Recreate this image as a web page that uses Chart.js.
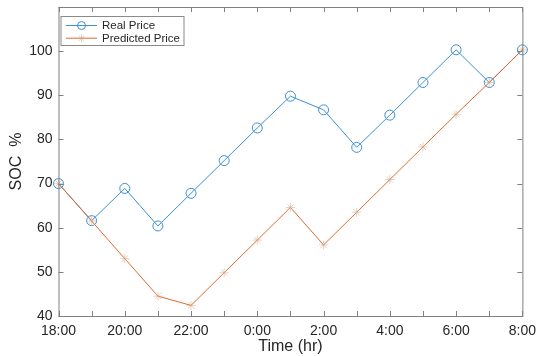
<!DOCTYPE html>
<html>
<head>
<meta charset="utf-8">
<script src="https://cdn.jsdelivr.net/npm/chart.js@4"></script>
<style>
  html, body { margin: 0; padding: 0; background: #fff; }
  #wrap { width: 543px; height: 356px; }
</style>
</head>
<body>
<div id="wrap"><canvas id="socChart" width="543" height="356"></canvas></div>
<script>
const hours = ["18:00", "19:00", "20:00", "21:00", "22:00", "23:00", "0:00", "1:00",
  "2:00", "3:00", "4:00", "5:00", "6:00", "7:00", "8:00"];
const realPrice = [70, 61.6, 68.9, 60.4, 67.8, 75.2, 82.6, 89.8, 86.7, 78.2, 85.5, 92.9, 100.3, 92.9, 100.3];
const predictedPrice = [70, 61.5, 53, 44.5, 42.4, 49.8, 57.2, 64.6, 56.1, 63.5, 70.9, 78.3, 85.7, 92.9, 100.3];

const FONT = "'Liberation Sans', Arial, Helvetica, sans-serif";
const TEXT = "#262626";
const AXIS = "#808080";
const BLUE = "#3d8fd1";
const ORANGE = "#e0692e";

// matlab-ish frame: box + inward ticks on all 4 sides, legend in top-left
const framePlugin = {
  id: "frame",
  afterDraw(chart) {
    const { ctx, chartArea: a, scales } = chart;
    ctx.save();
    ctx.strokeStyle = AXIS;
    ctx.lineWidth = 1;
    ctx.strokeRect(a.left + 0.5, a.top + 0.5, a.right - a.left, a.bottom - a.top);
    const t = 5;
    ctx.beginPath();
    scales.x.ticks.forEach((tk, i) => {
      const x = Math.round(scales.x.getPixelForTick(i)) + 0.5;
      ctx.moveTo(x, a.bottom); ctx.lineTo(x, a.bottom - t);
      ctx.moveTo(x, a.top); ctx.lineTo(x, a.top + t);
    });
    scales.y.ticks.forEach((tk) => {
      const y = Math.round(scales.y.getPixelForValue(tk.value)) + 0.5;
      ctx.moveTo(a.left, y); ctx.lineTo(a.left + t, y);
      ctx.moveTo(a.right, y); ctx.lineTo(a.right - t, y);
    });
    ctx.stroke();

    // legend box
    const bx = a.left + 2.5, by = a.top + 9.5, bw = 123, bh = 29;
    ctx.fillStyle = "#fff";
    ctx.fillRect(bx, by, bw, bh);
    ctx.strokeStyle = "#8a8a8a";
    ctx.strokeRect(bx, by, bw, bh);
    ctx.font = "11.5px " + FONT;
    ctx.textBaseline = "middle";
    chart.data.datasets.forEach((ds, i) => {
      const y = by + 9 + i * 12.7;
      ctx.strokeStyle = ds.borderColor;
      ctx.lineWidth = 1;
      ctx.beginPath();
      ctx.moveTo(bx + 5, y); ctx.lineTo(bx + 36, y);
      ctx.stroke();
      const cx = bx + 20.5;
      if (i === 0) {
        ctx.beginPath();
        ctx.arc(cx, y, 4, 0, Math.PI * 2);
        ctx.stroke();
      } else {
        ctx.strokeStyle = ds.pointBorderColor;
        ctx.beginPath();
        for (let k = 0; k < 4; k++) {
          const ang = k * Math.PI / 4;
          ctx.moveTo(cx - 4 * Math.cos(ang), y - 4 * Math.sin(ang));
          ctx.lineTo(cx + 4 * Math.cos(ang), y + 4 * Math.sin(ang));
        }
        ctx.stroke();
      }
      ctx.fillStyle = TEXT;
      ctx.fillText(ds.label, bx + 41, y + 0.5);
    });
    ctx.restore();
  }
};

new Chart(document.getElementById("socChart"), {
  type: "line",
  data: {
    labels: hours,
    datasets: [
      {
        label: "Real Price",
        data: realPrice,
        order: 1,
        borderColor: BLUE,
        borderWidth: 1,
        pointStyle: "circle",
        pointRadius: 5,
        pointBorderWidth: 1,
        pointBorderColor: BLUE,
        pointBackgroundColor: "rgba(0,0,0,0)",
        tension: 0
      },
      {
        label: "Predicted Price",
        data: predictedPrice,
        order: 0,
        borderColor: ORANGE,
        borderWidth: 1,
        pointStyle: "star",
        pointRadius: 4.5,
        pointBorderWidth: 1,
        pointBorderColor: "rgba(210,170,140,0.55)",
        pointBackgroundColor: "rgba(0,0,0,0)",
        tension: 0
      }
    ]
  },
  options: {
    responsive: false,
    animation: false,
    layout: { padding: { top: 7, right: 14, left: 0, bottom: 0 } },
    plugins: { legend: { display: false }, tooltip: { enabled: false } },
    scales: {
      x: {
        type: "category",
        offset: false,
        grid: { display: false, drawTicks: false },
        border: { display: false },
        ticks: {
          autoSkip: false,
          maxRotation: 0,
          padding: 7,
          color: TEXT,
          font: { family: FONT, size: 14 },
          callback: (v, i) => (i % 2 === 0 ? hours[i] : "")
        },
        title: {
          display: true,
          text: "Time (hr)",
          color: TEXT,
          font: { family: FONT, size: 16 },
          padding: { top: 0, bottom: 0 }
        },
        afterFit: (s) => { s.height = 40; }
      },
      y: {
        min: 40,
        max: 110,
        grid: { display: false, drawTicks: false },
        border: { display: false },
        ticks: {
          stepSize: 10,
          padding: 6,
          color: TEXT,
          font: { family: FONT, size: 14 },
          callback: (v) => (v >= 110 ? "" : v)
        },
        title: {
          display: true,
          text: "SOC  %",
          color: TEXT,
          font: { family: FONT, size: 16 },
          padding: { top: 7, bottom: 0 }
        },
        afterFit: (s) => { s.width = 58.5; s.paddingTop = 0; s.paddingBottom = 0; }
      }
    }
  },
  plugins: [framePlugin]
});
</script>
</body>
</html>
